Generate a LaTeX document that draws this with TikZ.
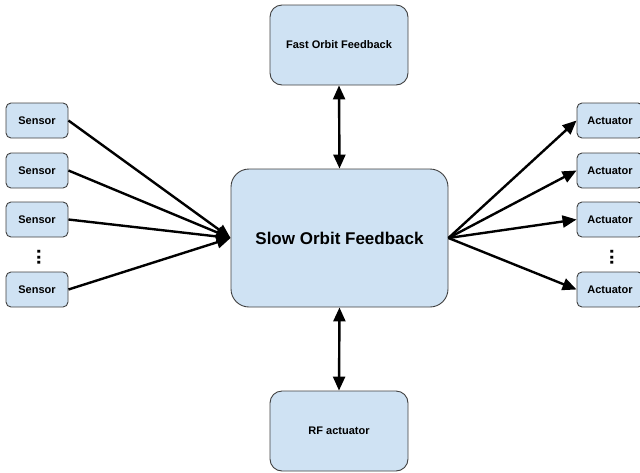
\documentclass[tikz,border=0pt]{standalone}
\usepackage{fontspec}
\setmainfont{Liberation Sans}
\usetikzlibrary{arrows.meta}
\definecolor{boxfill}{HTML}{CFE2F3}
\definecolor{boxline}{HTML}{404040}
\tikzset{
  smallbox/.style={draw=boxline, fill=boxfill, line width=0.9pt, rounded corners=5pt,
    minimum width=62pt, minimum height=35pt, inner sep=0pt,
    font=\bfseries\fontsize{11}{13}\selectfont},
  midbox/.style={draw=boxline, fill=boxfill, line width=0.9pt, rounded corners=12pt,
    minimum width=138pt, minimum height=80pt, inner sep=0pt,
    font=\bfseries\fontsize{11}{13}\selectfont},
  bigbox/.style={draw=boxline, fill=boxfill, line width=0.9pt, rounded corners=18pt,
    minimum width=217pt, minimum height=138pt, inner sep=0pt,
    font=\bfseries\fontsize{17}{20}\selectfont},
  link/.style={line width=2.4pt, -{Triangle[length=14pt, width=12pt]}},
  bilink/.style={line width=2.4pt, {Triangle[length=14pt, width=12pt]}-{Triangle[length=14pt, width=12pt]}},
  vdots/.style={font=\bfseries\fontsize{20}{20}\selectfont, inner sep=0pt}
}
\begin{document}
\begin{tikzpicture}[x=1pt, y=-1pt]
  \useasboundingbox (0,0) rectangle (640,472);
  \begin{scope}
    \clip (0,0) rectangle (640,472);

    % central controller and its neighbours
    \node[bigbox] (sofb) at (339.5,238) {Slow Orbit Feedback};
    \node[midbox] (fofb) at (339,45) {Fast Orbit Feedback};
    \node[midbox] (rf)   at (339,431) {RF actuator};

    % sensors on the left
    \node[smallbox] (s1) at (37,120.5) {Sensor};
    \node[smallbox] (s2) at (37,170.5) {Sensor};
    \node[smallbox] (s3) at (37,219.5) {Sensor};
    \node[smallbox] (s4) at (37,289.5) {Sensor};
    \node[vdots] (sdots) at (39,257.5) {\rotatebox{90}{...}};

    % actuators on the right
    \node[smallbox, minimum width=66pt] (a1) at (610,120.5) {Actuator};
    \node[smallbox, minimum width=66pt] (a2) at (610,170.5) {Actuator};
    \node[smallbox, minimum width=66pt] (a3) at (610,219.5) {Actuator};
    \node[smallbox, minimum width=66pt] (a4) at (610,289.5) {Actuator};
    \node[vdots] (adots) at (612,257.5) {\rotatebox{90}{...}};

    % connectors
    \foreach \s in {s1,s2,s3,s4}
      \draw[link] (\s.east) -- (sofb.west);
    \foreach \a in {a1,a2,a3,a4}
      \draw[link] (sofb.east) -- (\a.west);
    \draw[bilink] (fofb.south) -- (sofb.north);
    \draw[bilink] (sofb.south) -- (rf.north);
  \end{scope}
\end{tikzpicture}
\end{document}
